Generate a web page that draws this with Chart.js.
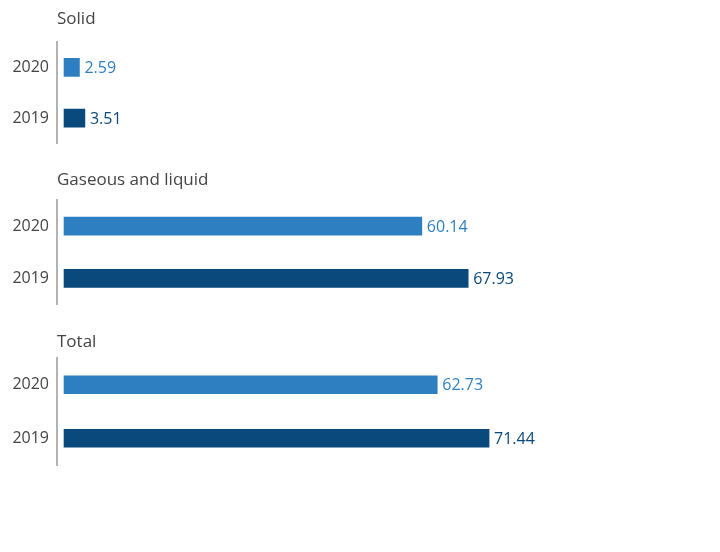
<!DOCTYPE html>
<html>
<head>
<meta charset="utf-8">
<script src="https://cdn.jsdelivr.net/npm/chart.js@4.4.1/dist/chart.umd.min.js"></script>
<style>
    body { margin: 0; background: #fff; }
    #wrap { width: 720px; height: 552px; }
    .grp { position: relative; width: 720px; height: 161px; }
</style>
</head>
<body>
<div id="wrap"></div>
<script>
// chart data
const groups = ['Solid', 'Gaseous and liquid', 'Total'];
const years = ['2020', '2019'];
const values2020 = [2.59, 60.14, 62.73];
const values2019 = [3.51, 67.93, 71.44];

const colors = ['#2e7fc2', '#0a497b'];
const fontFamily = "'Open Sans', 'Noto Sans', sans-serif";
// top padding and title offset for each block
const topPads = [42, 39, 36];
const titleGaps = [23, 20, 16];
const areaHeight = 107;

// draws the group name above the axis and the value after each bar
const labelsPlugin = {
    id: 'labels',
    afterDatasetsDraw(chart, args, opts) {
        const ctx = chart.ctx;
        const area = chart.chartArea;
        ctx.save();
        ctx.textBaseline = 'middle';
        ctx.textAlign = 'left';
        ctx.font = '17px ' + fontFamily;
        ctx.fillStyle = '#444';
        ctx.fillText(opts.title, area.left, area.top - opts.gap);

        ctx.font = '16px ' + fontFamily;
        const meta = chart.getDatasetMeta(0);
        const data = chart.data.datasets[0].data;
        meta.data.forEach((bar, i) => {
            ctx.fillStyle = colors[i];
            ctx.fillText(data[i].toFixed(2), bar.x + 5, bar.y + 1);
        });
        ctx.restore();
    }
};

const wrap = document.getElementById('wrap');

groups.forEach((name, g) => {
    const div = document.createElement('div');
    div.className = 'grp';
    const canvas = document.createElement('canvas');
    div.appendChild(canvas);
    wrap.appendChild(div);

    new Chart(canvas, {
        type: 'bar',
        data: {
            labels: years,
            datasets: [{
                data: [values2020[g], values2019[g]],
                backgroundColor: colors,
                barThickness: 18
            }]
        },
        options: {
            indexAxis: 'y',
            responsive: true,
            maintainAspectRatio: false,
            animation: false,
            layout: { padding: { top: topPads[g], bottom: 161 - areaHeight - topPads[g], left: 0, right: 61 } },
            plugins: {
                legend: { display: false },
                tooltip: { enabled: false },
                labels: { title: name, gap: titleGaps[g] }
            },
            scales: {
                x: {
                    display: false,
                    min: -1.18,
                    max: 100
                },
                y: {
                    grid: { display: false, drawTicks: false },
                    border: { display: true, color: '#b3b3b3', width: 2 },
                    ticks: {
                        color: '#444',
                        padding: 8,
                        font: { size: 16, family: fontFamily }
                    },
                    afterFit(scale) { scale.width = 57; }
                }
            }
        },
        plugins: [labelsPlugin]
    });
});
</script>
</body>
</html>
